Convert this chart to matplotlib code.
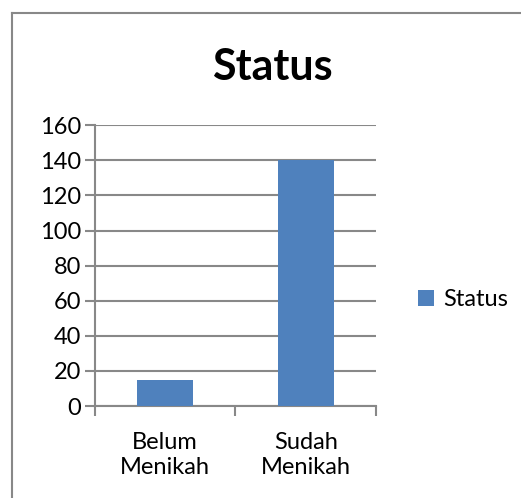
import matplotlib
matplotlib.use("Agg")
import matplotlib.pyplot as plt
from matplotlib.lines import Line2D

categories = ["Belum\nMenikah", "Sudah\nMenikah"]
values = [15, 140]
series_name = "Status"
yticks = [0, 20, 40, 60, 80, 100, 120, 140, 160]

plt.rcParams['font.family'] = ['Lato', 'DejaVu Sans']

fig = plt.figure(figsize=(5.21, 4.98), dpi=100)
ax = fig.add_axes([0.1823, 0.1847, 0.5394, 0.5637])

x = list(range(len(categories)))
ax.bar(x, values, width=0.4, color="#4F81BD", label=series_name, zorder=3)

ax.set_xlim(-0.5, len(categories) - 0.5)
ax.set_ylim(0, 160)
ax.set_yticks(yticks)
ax.tick_params(axis="y", labelsize=17, length=7, width=1.5, color="#888888", pad=3)
ax.yaxis.grid(True, color="#888888", linewidth=1.5, zorder=0)

ax.set_xticks(x)
ax.set_xticklabels(categories, fontsize=17, linespacing=1.2)
ax.tick_params(axis="x", length=0, pad=19)
ax.set_xticks([i - 0.5 for i in range(len(categories) + 1)], minor=True)
ax.tick_params(axis="x", which="minor", length=7, width=1.5, color="#888888")

for s in ["top", "right"]:
    ax.spines[s].set_visible(False)
for s in ["left", "bottom"]:
    ax.spines[s].set_color("#888888")
    ax.spines[s].set_linewidth(1.5)

fig.text(0.522, 0.865, "Status", fontsize=31, fontweight="bold", ha="center", va="center")

ax.legend(loc="center left", bbox_to_anchor=(1.075, 0.378), frameon=False, fontsize=17,
          handlelength=0.65, handleheight=0.65, handletextpad=0.4)

# outer chart border
fig.add_artist(Line2D([12 / 521, 12 / 521], [0, 1 - 13 / 498], color="#888888", linewidth=1.5,
                      transform=fig.transFigure))
fig.add_artist(Line2D([12 / 521, 1], [1 - 13 / 498, 1 - 13 / 498], color="#888888", linewidth=1.5,
                      transform=fig.transFigure))

fig.savefig("out.png", dpi=100)
